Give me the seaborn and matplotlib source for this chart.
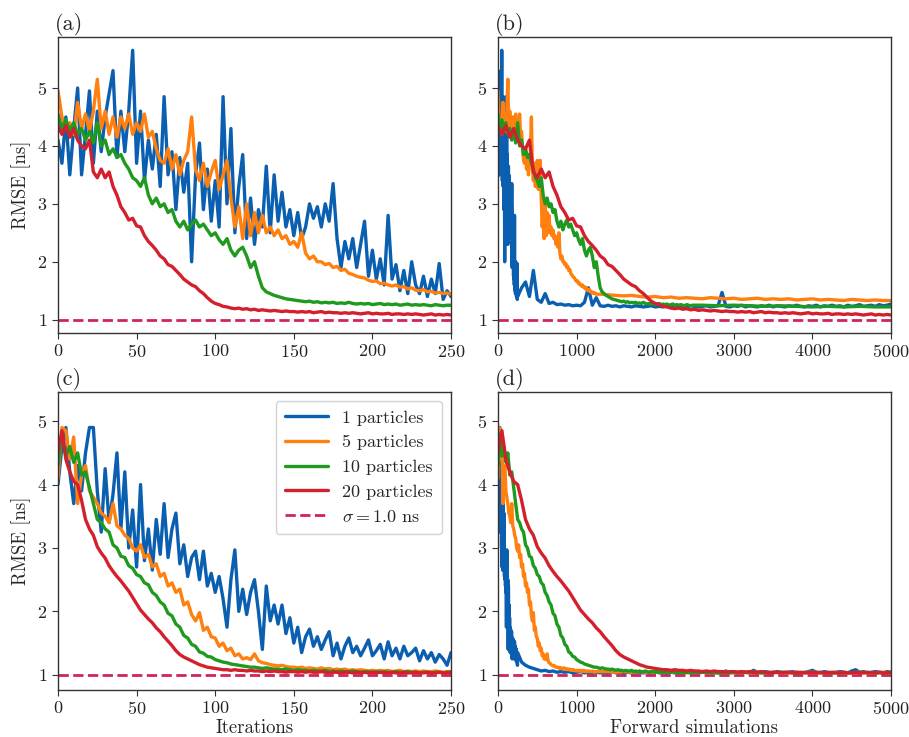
import numpy as np
import pandas as pd
import matplotlib
matplotlib.use("Agg")
import matplotlib.pyplot as plt
import seaborn as sns

# ---------------- data ----------------
particles = [1, 5, 10, 20]
series_labels = ["1 particles", "5 particles", "10 particles", "20 particles"]
colors = ["#0b5fb0", "#ff800e", "#1e9a1e", "#d4202c"]
sigma_label = r"$\sigma = 1.0$ ns"
sigma_color = "#d3245a"
panel_titles = ["(a)", "(b)", "(c)", "(d)"]
iter_ticks = [0, 50, 100, 150, 200, 250]
sim_ticks = [0, 1000, 2000, 3000, 4000, 5000]
y_ticks = [1, 2, 3, 4, 5]

iters = np.linspace(0, 250, 101)
tail_blue_iters = np.arange(300, 5001, 50)
tail_orange_iters = np.arange(260, 1001, 20)
tail_green_iters = np.arange(260, 501, 20)

# top row experiment (panels a, b)
top_blue = [4.1, 3.7, 4.5, 3.5, 4.3, 5.0, 3.5, 4.2, 4.95, 3.7,
            4.6, 3.9, 4.5, 4.9, 5.3, 3.8, 4.6, 3.9, 4.6, 5.65,
            3.7, 4.6, 3.4, 4.1, 3.6, 4.2, 3.3, 4.85, 3.5, 3.9,
            2.9, 3.8, 3.2, 3.7, 2.0, 3.5, 4.05, 2.9, 3.6, 2.7,
            3.4, 2.6, 4.85, 3.0, 4.3, 2.5, 3.3, 3.85, 2.4, 3.1,
            2.3, 2.9, 2.6, 3.65, 2.5, 3.5, 2.7, 3.2, 2.6, 2.9,
            2.45, 2.85, 2.4, 2.6, 3.0, 2.75, 2.95, 2.6, 3.0, 2.7,
            3.35, 2.4, 1.9, 2.35, 2.05, 2.4, 1.9, 2.3, 2.7, 1.75,
            2.2, 1.7, 2.05, 1.6, 2.8, 1.7, 1.95, 1.5, 1.85, 1.45,
            2.0, 1.6, 1.45, 1.75, 1.4, 1.7, 1.45, 1.97, 1.35, 1.5,
            1.4]
top_orange = [4.95, 4.5, 4.3, 4.4, 4.2, 4.75, 4.3, 4.55, 4.25, 4.6,
              5.15, 4.3, 4.6, 4.2, 4.5, 4.15, 4.5, 4.3, 4.55, 4.2,
              4.4, 4.25, 4.55, 4.15, 4.25, 3.95, 3.75, 3.7, 3.95, 3.6,
              3.85, 3.5, 3.75, 3.9, 4.5, 3.6, 3.4, 3.7, 3.3, 3.55,
              3.75, 3.25, 3.5, 3.75, 3.1, 2.6, 2.95, 2.4, 3.0, 2.45,
              2.85, 2.5, 2.8, 2.5, 2.6, 2.45, 2.55, 2.4, 2.45, 2.3,
              2.35, 2.25, 2.5, 2.15, 2.05, 2.1, 2.0, 2.0, 1.95, 1.97,
              1.9, 1.92, 1.85, 1.87, 1.8, 1.78, 1.75, 1.73, 1.72, 1.68,
              1.66, 1.67, 1.62, 1.63, 1.6, 1.58, 1.6, 1.56, 1.57, 1.53,
              1.55, 1.51, 1.5, 1.52, 1.48, 1.49, 1.46, 1.47, 1.45, 1.46,
              1.44]
top_green = [4.55, 4.3, 4.45, 4.25, 4.4, 4.2, 4.3, 4.1, 4.25, 4.05,
             4.4, 4.0, 4.1, 3.85, 3.95, 3.8, 3.85, 3.7, 3.6, 3.45,
             3.4, 3.3, 3.45, 3.15, 3.0, 3.1, 2.95, 3.0, 2.85, 2.9,
             2.7, 2.6, 2.7, 2.55, 2.65, 2.72, 2.6, 2.65, 2.55, 2.45,
             2.5, 2.38, 2.3, 2.4, 2.2, 2.1, 2.2, 2.25, 2.1, 1.9,
             2.0, 1.75, 1.55, 1.48, 1.45, 1.42, 1.4, 1.38, 1.36, 1.35,
             1.34, 1.33, 1.32, 1.31, 1.32, 1.3, 1.31, 1.29, 1.3, 1.29,
             1.3, 1.28, 1.29, 1.28, 1.3, 1.28, 1.27, 1.28, 1.27, 1.28,
             1.26, 1.27, 1.28, 1.26, 1.27, 1.26, 1.27, 1.25, 1.26, 1.27,
             1.25, 1.26, 1.25, 1.26, 1.25, 1.24, 1.26, 1.25, 1.24, 1.25,
             1.25]
top_red = [4.35, 4.2, 4.35, 4.15, 4.3, 4.1, 4.0, 3.95, 4.1, 3.55,
           3.45, 3.6, 3.45, 3.55, 3.3, 3.15, 2.95, 2.85, 2.72, 2.75,
           2.62, 2.6, 2.45, 2.35, 2.28, 2.2, 2.1, 2.05, 1.95, 1.92,
           1.85, 1.78, 1.7, 1.65, 1.6, 1.57, 1.5, 1.45, 1.38, 1.32,
           1.28, 1.26, 1.23, 1.22, 1.2, 1.19, 1.2, 1.18, 1.19, 1.17,
           1.18, 1.16, 1.17, 1.16, 1.15, 1.16, 1.15, 1.14, 1.15, 1.14,
           1.14, 1.13, 1.14, 1.13, 1.14, 1.12, 1.13, 1.14, 1.12, 1.13,
           1.12, 1.12, 1.11, 1.12, 1.11, 1.12, 1.11, 1.1, 1.11, 1.12,
           1.1, 1.11, 1.1, 1.1, 1.11, 1.09, 1.1, 1.1, 1.09, 1.1,
           1.09, 1.1, 1.09, 1.08, 1.09, 1.1, 1.08, 1.09, 1.08, 1.09,
           1.08]
top_blue_tail = [1.55, 1.65, 1.4, 1.85, 1.35, 1.3, 1.45, 1.28, 1.3, 1.26,
                 1.27, 1.25, 1.26, 1.24, 1.25, 1.24, 1.3, 1.55, 1.25, 1.38,
                 1.24, 1.23, 1.25, 1.23, 1.24, 1.22, 1.24, 1.23, 1.22, 1.24,
                 1.23, 1.22, 1.23, 1.24, 1.22, 1.23, 1.22, 1.24, 1.23, 1.22,
                 1.24, 1.23, 1.22, 1.24, 1.23, 1.22, 1.23, 1.24, 1.22, 1.23,
                 1.24, 1.47, 1.23, 1.22, 1.24, 1.23, 1.25, 1.22, 1.24, 1.23,
                 1.22, 1.24, 1.23, 1.25, 1.22, 1.24, 1.23, 1.22, 1.24, 1.23,
                 1.25, 1.23, 1.22, 1.24, 1.23, 1.25, 1.22, 1.24, 1.23, 1.25,
                 1.23, 1.24, 1.22, 1.25, 1.23, 1.24, 1.26, 1.23, 1.24, 1.25,
                 1.23, 1.26, 1.24, 1.25, 1.27]
top_orange_tail = [1.44, 1.43, 1.42, 1.41, 1.42, 1.4, 1.39, 1.4, 1.38, 1.39,
                   1.37, 1.38, 1.37, 1.36, 1.38, 1.37, 1.36, 1.37, 1.35, 1.36,
                   1.37, 1.35, 1.36, 1.35, 1.36, 1.34, 1.35, 1.36, 1.34, 1.35,
                   1.34, 1.33, 1.35, 1.34, 1.33, 1.34, 1.33, 1.33]
top_green_tail = [1.25, 1.24, 1.25, 1.24, 1.23, 1.24, 1.23, 1.22, 1.23, 1.22,
                  1.23, 1.22, 1.22]

# bottom row experiment (panels c, d)
bot_blue = [4.0, 4.6, 4.9, 4.2, 3.7, 4.3, 3.9, 4.5, 4.9, 4.9,
            3.9, 3.25, 4.25, 3.4, 3.85, 4.5, 3.3, 4.2, 3.0, 3.6,
            2.7, 4.0, 2.8, 3.3, 2.65, 3.45, 2.9, 3.7, 2.85, 3.3,
            3.55, 2.75, 3.05, 2.55, 2.85, 2.95, 2.5, 2.95, 2.4, 2.6,
            2.3, 2.55, 2.2, 1.75, 2.5, 2.97, 2.0, 2.35, 1.95, 2.3,
            2.5, 2.0, 1.4, 2.4, 1.85, 2.1, 1.8, 2.1, 1.65, 1.9,
            1.5, 1.75, 1.35, 1.6, 1.72, 1.45, 1.6, 1.4, 1.55, 1.68,
            1.3, 1.5, 1.25, 1.45, 1.58, 1.35, 1.45, 1.3, 1.42, 1.55,
            1.3, 1.38, 1.48, 1.25, 1.52, 1.3, 1.42, 1.25, 1.45, 1.3,
            1.35, 1.42, 1.22, 1.38, 1.25, 1.35, 1.2, 1.32, 1.25, 1.15,
            1.35]
bot_orange = [4.1, 4.9, 4.85, 4.4, 4.75, 3.7, 4.15, 4.3, 3.9, 3.8,
              3.7, 3.55, 3.5, 3.4, 3.7, 3.35, 3.3, 3.2, 3.15, 3.0,
              2.95, 3.05, 2.85, 2.9, 2.7, 2.75, 2.55, 2.6, 2.4, 2.45,
              2.3, 2.35, 2.1, 2.15, 1.95, 1.85, 1.98, 1.7, 1.75, 1.6,
              1.58, 1.45, 1.5, 1.38, 1.42, 1.3, 1.33, 1.25, 1.27, 1.24,
              1.33, 1.22, 1.19, 1.18, 1.16, 1.15, 1.14, 1.15, 1.13, 1.12,
              1.12, 1.11, 1.12, 1.1, 1.11, 1.1, 1.09, 1.11, 1.09, 1.1,
              1.08, 1.09, 1.08, 1.09, 1.07, 1.08, 1.07, 1.08, 1.07, 1.06,
              1.07, 1.06, 1.07, 1.06, 1.07, 1.05, 1.06, 1.07, 1.05, 1.06,
              1.05, 1.06, 1.05, 1.06, 1.05, 1.05, 1.06, 1.05, 1.04, 1.05,
              1.05]
bot_green = [4.3, 4.8, 4.45, 4.6, 4.35, 4.5, 4.15, 4.2, 3.95, 3.7,
             3.45, 3.4, 3.3, 3.25, 3.05, 3.0, 2.87, 2.85, 2.72, 2.68,
             2.58, 2.55, 2.45, 2.42, 2.3, 2.25, 2.15, 2.1, 1.97, 1.93,
             1.8, 1.75, 1.62, 1.58, 1.48, 1.45, 1.36, 1.34, 1.29, 1.28,
             1.24, 1.22, 1.2, 1.19, 1.17, 1.16, 1.15, 1.14, 1.13, 1.12,
             1.12, 1.11, 1.1, 1.11, 1.1, 1.09, 1.09, 1.08, 1.09, 1.08,
             1.07, 1.08, 1.07, 1.07, 1.06, 1.07, 1.06, 1.06, 1.07, 1.05,
             1.06, 1.05, 1.06, 1.05, 1.05, 1.06, 1.05, 1.04, 1.05, 1.05,
             1.04, 1.05, 1.04, 1.05, 1.04, 1.04, 1.05, 1.04, 1.04, 1.05,
             1.04, 1.04, 1.03, 1.04, 1.04, 1.03, 1.04, 1.04, 1.03, 1.04,
             1.04]
bot_red = [4.5, 4.85, 4.4, 4.2, 4.05, 4.0, 3.75, 3.45, 3.3, 3.2,
           3.02, 2.92, 2.84, 2.72, 2.63, 2.55, 2.48, 2.4, 2.32, 2.22,
           2.12, 2.02, 1.95, 1.88, 1.82, 1.74, 1.68, 1.6, 1.53, 1.46,
           1.38, 1.32, 1.28, 1.25, 1.22, 1.19, 1.16, 1.14, 1.12, 1.11,
           1.1, 1.09, 1.08, 1.08, 1.07, 1.08, 1.07, 1.07, 1.06, 1.07,
           1.06, 1.06, 1.05, 1.06, 1.05, 1.06, 1.05, 1.05, 1.04, 1.05,
           1.05, 1.04, 1.05, 1.04, 1.05, 1.04, 1.04, 1.05, 1.04, 1.03,
           1.04, 1.04, 1.03, 1.04, 1.04, 1.03, 1.04, 1.03, 1.04, 1.03,
           1.04, 1.03, 1.04, 1.03, 1.03, 1.04, 1.03, 1.03, 1.04, 1.03,
           1.03, 1.04, 1.03, 1.03, 1.04, 1.03, 1.03, 1.04, 1.03, 1.03,
           1.04]
bot_blue_tail = [1.2, 1.15, 1.12, 1.1, 1.08, 1.06, 1.07, 1.05, 1.06, 1.04,
                 1.05, 1.04, 1.05, 1.03, 1.04, 1.05, 1.03, 1.04, 1.03, 1.04,
                 1.03, 1.04, 1.03, 1.05, 1.03, 1.04, 1.03, 1.04, 1.03, 1.04,
                 1.04, 1.03, 1.04, 1.03, 1.05, 1.03, 1.04, 1.03, 1.04, 1.03,
                 1.04, 1.03, 1.05, 1.03, 1.04, 1.03, 1.04, 1.05, 1.03, 1.04,
                 1.03, 1.04, 1.06, 1.03, 1.04, 1.03, 1.05, 1.04, 1.03, 1.07,
                 1.04, 1.03, 1.05, 1.04, 1.03, 1.05, 1.04, 1.03, 1.04, 1.05,
                 1.03, 1.04, 1.03, 1.05, 1.07, 1.04, 1.03, 1.05, 1.04, 1.03,
                 1.04, 1.05, 1.04, 1.03, 1.06, 1.08, 1.04, 1.05, 1.03, 1.04,
                 1.05, 1.04, 1.03, 1.05, 1.04]
bot_orange_tail = [1.05, 1.05, 1.04, 1.05, 1.04, 1.05, 1.04, 1.04, 1.05, 1.04,
                   1.04, 1.03, 1.04, 1.04, 1.03, 1.04, 1.04, 1.03, 1.04, 1.03,
                   1.04, 1.03, 1.04, 1.03, 1.03, 1.04, 1.03, 1.04, 1.03, 1.03,
                   1.04, 1.03, 1.03, 1.04, 1.03, 1.03, 1.04, 1.03]
bot_green_tail = [1.04, 1.03, 1.04, 1.04, 1.03, 1.04, 1.03, 1.04, 1.03, 1.03,
                  1.04, 1.03, 1.03]


def build_table(main, tails):
    tail_iters = [tail_blue_iters, tail_orange_iters, tail_green_iters, None]
    frames = []
    for k, p in enumerate(particles):
        it = np.asarray(iters)
        vals = np.asarray(main[k], dtype=float)
        if tails[k] is not None:
            it = np.concatenate([it, tail_iters[k]])
            vals = np.concatenate([vals, np.asarray(tails[k], dtype=float)])
        frames.append(pd.DataFrame({"iteration": it, "sims": it * p,
                                    "rmse": vals, "label": series_labels[k]}))
    return pd.concat(frames, ignore_index=True)


top_df = build_table([top_blue, top_orange, top_green, top_red],
                     [top_blue_tail, top_orange_tail, top_green_tail, None])
bot_df = build_table([bot_blue, bot_orange, bot_green, bot_red],
                     [bot_blue_tail, bot_orange_tail, bot_green_tail, None])

# ---------------- style ----------------
sns.set_style("ticks")
plt.rcParams.update({
    "font.family": ["cmr10", "DejaVu Serif"],
    "mathtext.fontset": "cm",
    "axes.formatter.use_mathtext": True,
    "axes.edgecolor": "#333333",
    "axes.linewidth": 1.0,
    "xtick.color": "#333333",
    "ytick.color": "#333333",
    "xtick.labelcolor": "#222222",
    "ytick.labelcolor": "#222222",
    "xtick.direction": "out",
    "ytick.direction": "out",
    "xtick.major.size": 4,
    "ytick.major.size": 4,
})

fig = plt.figure(figsize=(9.09, 7.37), dpi=100)
W, H = 909.0, 737.0
boxes = [(58, 37, 451, 333), (498, 37, 891, 333),
         (58, 392, 451, 690), (498, 392, 891, 690)]
axes = []
for (l, t, r, b) in boxes:
    axes.append(fig.add_axes([l / W, 1 - b / H, (r - l) / W, (b - t) / H]))

panels = [(axes[0], top_df, "iteration", (0, 250), iter_ticks, (0.77, 5.88)),
          (axes[1], top_df, "sims", (0, 5000), sim_ticks, (0.77, 5.88)),
          (axes[2], bot_df, "iteration", (0, 250), iter_ticks, (0.76, 5.46)),
          (axes[3], bot_df, "sims", (0, 5000), sim_ticks, (0.76, 5.46))]

for idx, (ax, df, xcol, xlim, xt, ylim) in enumerate(panels):
    sub_all = df[df[xcol] <= xlim[1]]
    for k, lab in enumerate(series_labels):
        sub = sub_all[sub_all["label"] == lab]
        sns.lineplot(data=sub, x=xcol, y="rmse", ax=ax, color=colors[k],
                     linewidth=2.4, estimator=None, sort=False,
                     label=lab, legend=False)
    ax.axhline(1.0, color=sigma_color, ls="--", lw=2.0, label=sigma_label,
               zorder=1.9)
    ax.set_xlim(*xlim)
    ax.set_ylim(*ylim)
    ax.set_xticks(xt)
    ax.set_yticks(y_ticks)
    ax.tick_params(labelsize=13)
    ax.set_title(panel_titles[idx], loc="left", fontsize=16, pad=5, x=-0.008)
    ax.set_xlabel("")
    ax.set_ylabel("")
    if ax.get_legend() is not None:
        ax.get_legend().remove()

axes[0].set_ylabel("RMSE [ns]", fontsize=13.5)
axes[2].set_ylabel("RMSE [ns]", fontsize=13.5)
axes[2].set_xlabel("Iterations", fontsize=13.5, labelpad=1)
axes[3].set_xlabel("Forward simulations", fontsize=13.5, labelpad=1)

handles, labs = axes[2].get_legend_handles_labels()
leg = axes[2].legend(handles, labs, loc="upper right", fontsize=13,
                     handlelength=2.4, frameon=True, fancybox=True,
                     edgecolor="#cccccc", framealpha=0.85, borderpad=0.5,
                     labelspacing=0.5)

fig.savefig("out.png", dpi=100)
